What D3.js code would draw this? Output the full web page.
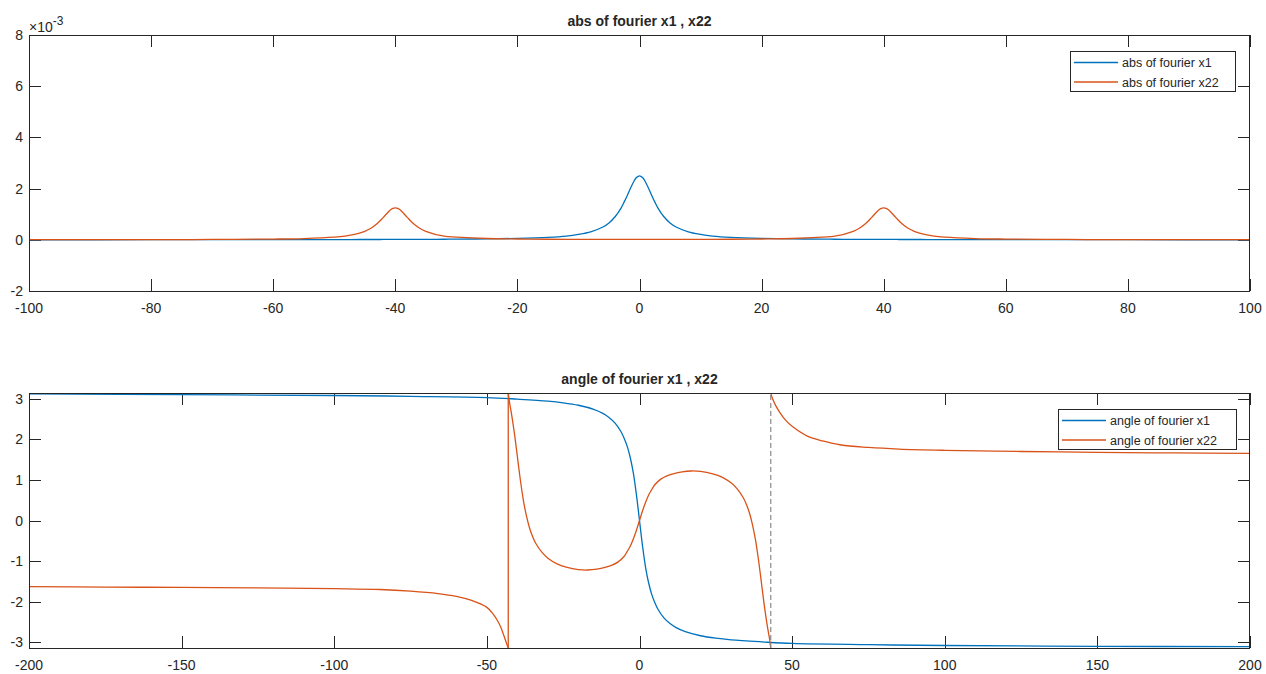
<!DOCTYPE html>
<html>
<head>
<meta charset="utf-8">
<script src="https://cdn.jsdelivr.net/npm/d3@7"></script>
<style>
  body { margin: 0; background: #fff; }
  text { font-family: "Liberation Sans", Arial, sans-serif; fill: #262626; }
</style>
</head>
<body>
<svg id="chart" width="1266" height="674"></svg>
<script>
// ---- data ----
// top panel: |X(f)|, values in units of 1e-3
var absFreq = [-100, -80, -70, -60, -55, -50, -48, -46, -45, -44, -43, -42, -41, -40.5, -40, -39.5, -39, -38, -37, -36, -35, -32, -30, -25, -20, -15, -12, -10, -8, -6, -5, -4, -3, -2.5, -2, -1.5, -1, -0.5, 0,
               0.5, 1, 1.5, 2, 2.5, 3, 4, 5, 6, 8, 10, 12, 15, 20, 25, 30, 32, 35, 36, 37, 38, 39, 39.5, 40, 40.5, 41, 42, 43, 44, 45, 46, 48, 50, 55, 60, 70, 80, 100];
var absX1 = [0.002, 0.0035, 0.005, 0.006, 0.008, 0.009, 0.01, 0.011, 0.011, 0.012, 0.012, 0.013, 0.013, 0.014, 0.014, 0.014, 0.015, 0.016, 0.016, 0.017, 0.018, 0.022, 0.025, 0.035, 0.055, 0.095, 0.145, 0.21, 0.31, 0.5, 0.66, 0.9, 1.25, 1.48, 1.73, 2.0, 2.25, 2.43, 2.5,
             2.43, 2.25, 2.0, 1.73, 1.48, 1.25, 0.9, 0.66, 0.5, 0.31, 0.21, 0.145, 0.095, 0.055, 0.035, 0.025, 0.022, 0.018, 0.017, 0.016, 0.016, 0.015, 0.014, 0.014, 0.014, 0.013, 0.013, 0.012, 0.012, 0.011, 0.011, 0.01, 0.009, 0.008, 0.006, 0.005, 0.0035, 0.002];
var absX22 = [0.004, 0.008, 0.013, 0.029, 0.049, 0.104, 0.156, 0.25, 0.33, 0.45, 0.625, 0.865, 1.125, 1.215, 1.25, 1.215, 1.125, 0.865, 0.625, 0.45, 0.333, 0.14, 0.106, 0.051, 0.031, 0.021, 0.019, 0.017, 0.016, 0.015, 0.015, 0.014, 0.014, 0.014, 0.014, 0.014, 0.014, 0.014, 0.014,
              0.014, 0.014, 0.014, 0.014, 0.014, 0.014, 0.014, 0.015, 0.015, 0.016, 0.017, 0.019, 0.021, 0.031, 0.051, 0.106, 0.14, 0.333, 0.45, 0.625, 0.865, 1.125, 1.215, 1.25, 1.215, 1.125, 0.865, 0.625, 0.45, 0.33, 0.25, 0.156, 0.104, 0.049, 0.029, 0.013, 0.008, 0.004];

// bottom panel: angle X(f), radians
var angFreq = [-200, -150, -100, -75, -50, -40, -30, -25, -20, -15, -12, -10, -8, -6, -5, -4, -3, -2, -1, 0,
               1, 2, 3, 4, 5, 6, 8, 10, 12, 15, 20, 25, 30, 40, 50, 75, 100, 150, 200];
var angX1 = [3.12, 3.10, 3.08, 3.06, 3.03, 2.99, 2.94, 2.90, 2.84, 2.74, 2.64, 2.54, 2.40, 2.18, 2.02, 1.82, 1.54, 1.16, 0.63, 0,
             -0.63, -1.16, -1.54, -1.82, -2.02, -2.18, -2.40, -2.54, -2.64, -2.74, -2.84, -2.90, -2.94, -2.99, -3.03, -3.06, -3.08, -3.10, -3.11];

// x22 angle has two wraps, kept as three pieces
var angX22FreqA = [-200, -175, -150, -125, -100, -85, -75, -66, -60, -55, -50, -48, -46.5, -45.5, -44.5, -43.6, -43];
var angX22A = [-1.63, -1.64, -1.65, -1.66, -1.68, -1.70, -1.74, -1.80, -1.87, -1.97, -2.14, -2.30, -2.47, -2.62, -2.82, -3.02, -3.14];
var angX22FreqB = [-43, -42.5, -42, -41.5, -41, -40.5, -40, -39.5, -39, -38.5, -38, -37, -36, -35, -34, -32, -30, -27, -24, -20, -17, -14, -11, -9, -7, -5, -4, -3, -2, -1, 0,
                   1, 2, 3, 4, 5, 7, 9, 11, 14, 17, 20, 24, 27, 30, 32, 34, 35, 36, 37, 38, 38.5, 39, 39.5, 40, 40.5, 41, 41.5, 42, 42.5, 43];
var angX22B = [3.14, 2.87, 2.66, 2.42, 2.16, 1.87, 1.57, 1.27, 0.98, 0.72, 0.48, 0.1, -0.19, -0.4, -0.56, -0.78, -0.93, -1.07, -1.15, -1.21, -1.22, -1.2, -1.15, -1.1, -1.02, -0.88, -0.76, -0.63, -0.45, -0.24, 0,
               0.24, 0.45, 0.63, 0.76, 0.88, 1.02, 1.1, 1.15, 1.2, 1.22, 1.21, 1.15, 1.07, 0.93, 0.78, 0.56, 0.4, 0.19, -0.1, -0.48, -0.72, -0.98, -1.27, -1.57, -1.87, -2.16, -2.42, -2.66, -2.87, -3.14];
var angX22FreqC = [43, 43.6, 44.5, 46, 48, 50, 55, 60, 66, 75, 85, 100, 125, 150, 175, 200];
var angX22C = [3.14, 3.0, 2.85, 2.66, 2.46, 2.32, 2.08, 1.96, 1.86, 1.8, 1.76, 1.73, 1.7, 1.68, 1.665, 1.655];
var angX22Jump = -43;     // solid vertical wrap
var angX22Dashed = 43;    // dashed grey wrap

var absXTicks = [-100, -80, -60, -40, -20, 0, 20, 40, 60, 80, 100];
var absYTicks = [-2, 0, 2, 4, 6, 8];
var angXTicks = [-200, -150, -100, -50, 0, 50, 100, 150, 200];
var angYTicks = [-3, -2, -1, 0, 1, 2, 3];

var blue = "#0072BD", orange = "#D95319", axisCol = "#262626";
var svg = d3.select("#chart");

function panel(opt) {
    var x = d3.scaleLinear().domain(opt.xDomain).range([29, 1250]);
    var y = d3.scaleLinear().domain(opt.yDomain).range([opt.bottom, opt.top]);
    var g = svg.append("g");
    var clipId = "clip" + opt.top;
    g.append("clipPath").attr("id", clipId).append("rect")
        .attr("x", 29).attr("y", opt.top - 1).attr("width", 1221).attr("height", opt.bottom - opt.top + 2);
    var tl = 12;

    // ticks on all four sides, pointing inward
    g.selectAll(".xt").data(opt.xTicks).enter().append("path")
        .attr("d", function(d) {
            var px = Math.round(x(d)) + 0.5;
            return "M" + px + "," + opt.bottom + "v" + (-tl) + "M" + px + "," + opt.top + "v" + tl;
        }).attr("stroke", axisCol).attr("stroke-width", 1);
    g.selectAll(".yt").data(opt.yTicks).enter().append("path")
        .attr("d", function(d) {
            var py = Math.round(y(d)) + 0.5;
            return "M29," + py + "h" + tl + "M1250," + py + "h" + (-tl);
        }).attr("stroke", axisCol).attr("stroke-width", 1);

    g.selectAll(".xl").data(opt.xTicks).enter().append("text")
        .attr("x", function(d) { return x(d); }).attr("y", opt.bottom + 22)
        .attr("text-anchor", "middle").attr("font-size", 14).text(function(d) { return d; });
    g.selectAll(".yl").data(opt.yTicks).enter().append("text")
        .attr("x", 23).attr("y", function(d) { return y(d) + 5; })
        .attr("text-anchor", "end").attr("font-size", 14).text(function(d) { return d; });

    g.append("text").attr("x", 639.5).attr("y", opt.top - 9)
        .attr("text-anchor", "middle").attr("font-size", 14).attr("font-weight", "bold")
        .text(opt.title);

    var plot = g.append("g").attr("clip-path", "url(#" + clipId + ")");
    var line = d3.line()
        .x(function(d) { return x(d[0]); })
        .y(function(d) { return y(d[1]); })
        .curve(d3.curveCatmullRom.alpha(0.5));

    opt.series.forEach(function(s) {
        plot.append("path")
            .attr("d", line(d3.zip(s.f, s.v)))
            .attr("fill", "none").attr("stroke", s.color).attr("stroke-width", 1.3);
    });
    if (opt.extra) opt.extra(plot, x, y, line);

    g.append("rect").attr("x", 29.5).attr("y", opt.top + 0.5)
        .attr("width", 1220).attr("height", opt.bottom - opt.top)
        .attr("fill", "none").attr("stroke", axisCol).attr("stroke-width", 1);

    // legend
    var lg = g.append("g");
    lg.append("rect").attr("x", opt.legend.x + 0.5).attr("y", opt.legend.y + 0.5)
        .attr("width", opt.legend.w).attr("height", 40)
        .attr("fill", "#fff").attr("stroke", axisCol).attr("stroke-width", 1);
    opt.series.forEach(function(s, i) {
        var ly = opt.legend.y + 11.5 + i * 19.5;
        lg.append("line").attr("x1", opt.legend.x + 4).attr("x2", opt.legend.x + 48)
            .attr("y1", ly).attr("y2", ly).attr("stroke", s.color).attr("stroke-width", 1.3);
        lg.append("text").attr("x", opt.legend.x + 52).attr("y", ly + 4.5)
            .attr("font-size", 12.5).text(s.name);
    });
    return g;
}

var topPanel = panel({
    xDomain: [-100, 100], yDomain: [-2, 8], top: 35, bottom: 291,
    xTicks: absXTicks, yTicks: absYTicks,
    title: "abs of fourier x1 , x22",
    series: [
        { f: absFreq, v: absX1, color: blue, name: "abs of fourier x1" },
        { f: absFreq, v: absX22, color: orange, name: "abs of fourier x22" }
    ],
    legend: { x: 1070, y: 51, w: 165 }
});

// exponent label
var expo = topPanel.append("text").attr("x", 29).attr("y", 32).attr("font-size", 14);
expo.append("tspan").text("\u00d710");
expo.append("tspan").attr("dy", -7).attr("font-size", 12).text("-3");

panel({
    xDomain: [-200, 200], yDomain: [-Math.PI, Math.PI], top: 393, bottom: 648,
    xTicks: angXTicks, yTicks: angYTicks,
    title: "angle of fourier x1 , x22",
    series: [
        { f: angFreq, v: angX1, color: blue, name: "angle of fourier x1" },
        { f: angX22FreqA, v: angX22A, color: orange, name: "angle of fourier x22" }
    ],
    legend: { x: 1058, y: 409, w: 178 },
    extra: function(plot, x, y, line) {
        [[angX22FreqB, angX22B], [angX22FreqC, angX22C]].forEach(function(p) {
            plot.append("path").attr("d", line(d3.zip(p[0], p[1])))
                .attr("fill", "none").attr("stroke", orange).attr("stroke-width", 1.3);
        });
        plot.append("line").attr("x1", x(angX22Jump)).attr("x2", x(angX22Jump))
            .attr("y1", y(-Math.PI)).attr("y2", y(Math.PI))
            .attr("stroke", orange).attr("stroke-width", 1.3);
        plot.append("line").attr("x1", x(angX22Dashed)).attr("x2", x(angX22Dashed))
            .attr("y1", y(-Math.PI)).attr("y2", y(Math.PI))
            .attr("stroke", "#8a8a8a").attr("stroke-width", 1.2).attr("stroke-dasharray", "5,3");
    }
});
</script>
</body>
</html>
